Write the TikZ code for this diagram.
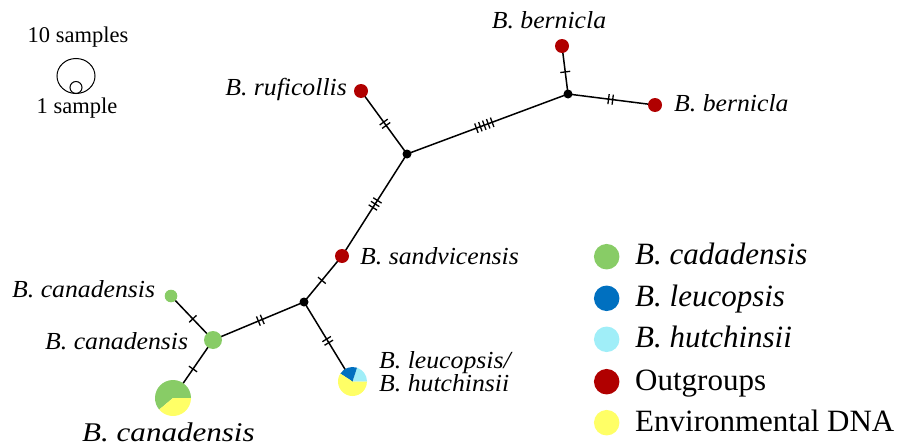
\documentclass[tikz,border=0pt]{standalone}
\usepackage{fontspec}
\setmainfont{Liberation Serif}
\usetikzlibrary{decorations.markings,backgrounds}
\definecolor{cgreen}{RGB}{136,204,102}
\definecolor{cdblue}{RGB}{0,112,192}
\definecolor{clblue}{RGB}{160,238,248}
\definecolor{cred}{RGB}{176,0,0}
\definecolor{cyel}{RGB}{255,255,102}
\newcommand\lab[1]{{\fontsize{24.5}{28}\selectfont\scalebox{1.05}[1]{\itshape #1}}}
\newcommand\leg[1]{{\fontsize{31}{36}\selectfont #1}}
\newcommand\smp[1]{{\fontsize{22.5}{26}\selectfont #1}}
\tikzset{
  edge/.style={line width=1.5pt},
  hatches/.style n args={2}{postaction={decorate,decoration={markings,
    mark=at position #1 with {\foreach \k in {1,...,#2}{\draw[line width=1.3pt] ({(\k-(#2+1)/2)*4.2},-5)--({(\k-(#2+1)/2)*4.2},5);}}}}},
  dot/.style={circle,fill=black,inner sep=0pt,minimum size=9},
  outg/.style={circle,fill=cred,inner sep=0pt,minimum size=14},
  hap/.style={circle,inner sep=0pt},
  txt/.style={inner sep=0pt},
  legdot/.style={circle,inner sep=0pt,minimum size=25.5}
}
\begin{document}
\begin{tikzpicture}[x=1pt,y=1pt]
\useasboundingbox (0,0) rectangle (898,-447);
% internal nodes
\node[dot] (A) at (568,-94) {};
\node[dot] (B) at (407,-154) {};
\node[dot] (C) at (304,-302) {};
% outgroups
\node[outg] (bt) at (562,-46) {};
\node[outg] (br) at (655,-105) {};
\node[outg] (ruf) at (361,-91) {};
\node[outg] (sand) at (342,-256) {};
% canadensis
\node[hap,fill=cgreen,minimum size=12.6] (cs) at (171,-296) {};
\node[hap,fill=cgreen,minimum size=18] (cm) at (213,-340) {};
\node[hap,minimum size=36] (P1) at (173,-398) {};
\fill[cgreen] (P1.center) -- +(0:18) arc[start angle=0,end angle=220,radius=18] -- cycle;
\fill[cyel] (P1.center) -- +(220:18) arc[start angle=220,end angle=360,radius=18] -- cycle;
% leucopsis / hutchinsii
\node[hap,minimum size=29] (P2) at (352.5,-381.5) {};
\fill[clblue] (P2.center) -- +(0:14.5) arc[start angle=0,end angle=72,radius=14.5] -- cycle;
\fill[cdblue] (P2.center) -- +(72:14.5) arc[start angle=72,end angle=147,radius=14.5] -- cycle;
\fill[cyel] (P2.center) -- +(147:14.5) arc[start angle=147,end angle=360,radius=14.5] -- cycle;
% edges
\begin{scope}[on background layer]
\draw[edge,hatches={0.46}{1}] (A.center) -- (bt.center);
\draw[edge,hatches={0.49}{2}] (A.center) -- (br.center);
\draw[edge,hatches={0.48}{5}] (B.center) -- (A.center);
\draw[edge,hatches={0.48}{2}] (B.center) -- (ruf.center);
\draw[edge,hatches={0.49}{3}] (B.center) -- (sand.center);
\draw[edge,hatches={0.53}{1}] (sand.center) -- (C.center);
\draw[edge,hatches={0.48}{2}] (C.center) -- (cm.center);
\draw[edge,hatches={0.49}{2}] (C.center) -- (P2.center);
\draw[edge,hatches={0.52}{1}] (cs.center) -- (cm.center);
\draw[edge,hatches={0.5}{1}] (cm.center) -- (P1.center);
\end{scope}
% labels
\node[txt,anchor=base] (lbt) at (549,-28) {\lab{B. bernicla}};
\node[txt,anchor=base west] (lbr) at (674,-111) {\lab{B. bernicla}};
\node[txt,anchor=base east] (lruf) at (347,-95) {\lab{B. ruficollis}};
\node[txt,anchor=base west] (lsand) at (360,-264) {\lab{B. sandvicensis}};
\node[txt,anchor=base west] (lcs) at (12,-297) {\lab{B. canadensis}};
\node[txt,anchor=base west] (lcm) at (45,-349) {\lab{B. canadensis}};
\node[txt,anchor=base west] (lcb) at (82,-441) {{\fontsize{27}{32}\selectfont\scalebox{1.15}[1]{\itshape B. canadensis}}};
\node[txt,anchor=base west] (lleu) at (379,-368) {\lab{B. leucopsis/}};
\node[txt,anchor=base west] (lhut) at (379,-391) {\lab{B. hutchinsii}};
% sample size legend
\node[txt,anchor=base] (s10) at (78,-42) {\smp{10 samples}};
\draw[line width=1pt] (76,-76) ellipse [x radius=19, y radius=17.5];
\draw[line width=1pt] (76,-87.5) circle [radius=6];
\node[txt,anchor=base] (s1) at (77,-113) {\smp{1 sample}};
% colour legend
\node[legdot,fill=cgreen] (k1) at (606.7,-256.7) {};
\node[legdot,fill=cdblue] (k2) at (606.7,-298.3) {};
\node[legdot,fill=clblue] (k3) at (606.7,-339.3) {};
\node[legdot,fill=cred] (k4) at (606.7,-381.7) {};
\node[legdot,fill=cyel] (k5) at (606.7,-422.7) {};
\node[txt,anchor=base west] (t1) at (635,-264.7) {\leg{\itshape B. cadadensis}};
\node[txt,anchor=base west] (t2) at (635,-306.3) {\leg{\itshape B. leucopsis}};
\node[txt,anchor=base west] (t3) at (635,-347.3) {\leg{\itshape B. hutchinsii}};
\node[txt,anchor=base west] (t4) at (635,-390.7) {\leg{Outgroups}};
\node[txt,anchor=base west] (t5) at (635,-431.7) {\leg{Environmental DNA}};
\end{tikzpicture}
\end{document}
